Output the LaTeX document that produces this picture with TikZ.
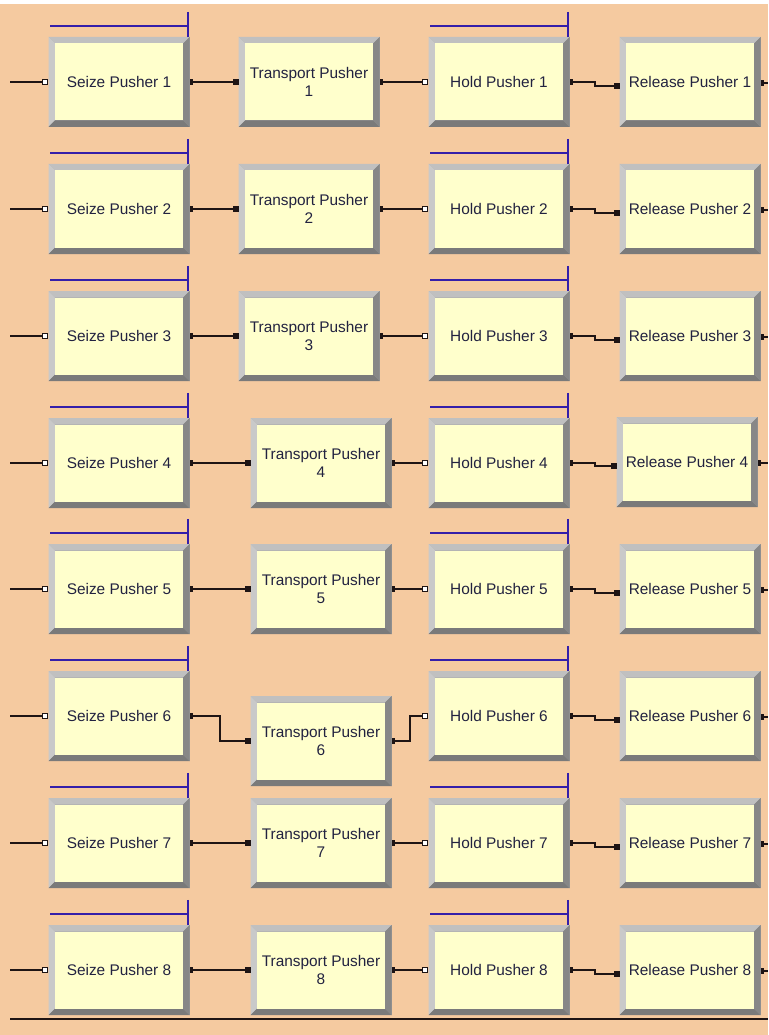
\documentclass[tikz,border=0pt]{standalone}
\usepackage{fontspec}
\setmainfont{Liberation Sans}
\definecolor{bg}{RGB}{245,202,160}
\definecolor{boxfill}{RGB}{255,255,204}
\definecolor{bevL}{RGB}{192,192,192}
\definecolor{bevD}{RGB}{122,122,122}
\definecolor{bevM}{RGB}{160,160,160}
\definecolor{brk}{RGB}{52,30,170}
\definecolor{wirec}{RGB}{30,20,20}
\definecolor{txt}{RGB}{34,34,64}
\tikzset{
  module/.style={rectangle, minimum width=141pt, minimum height=90pt, inner sep=0pt,
    fill=bevM, text=txt, align=center, font=\fontsize{15.4}{18.8}\selectfont,
    path picture={
      \path (path picture bounding box.north west) coordinate (pnw)
            (path picture bounding box.north east) coordinate (pne)
            (path picture bounding box.south west) coordinate (psw)
            (path picture bounding box.south east) coordinate (pse);
      \fill[bevL] (pnw) -- (pne) -- ([xshift=-6.5pt,yshift=-6.5pt]pne) -- ([xshift=6.5pt,yshift=-6.5pt]pnw) -- cycle;
      \fill[bevL!85!white] (pnw) -- (psw) -- ([xshift=6.5pt,yshift=6.5pt]psw) -- ([xshift=6.5pt,yshift=-6.5pt]pnw) -- cycle;
      \fill[bevD] (psw) -- (pse) -- ([xshift=-6.5pt,yshift=6.5pt]pse) -- ([xshift=6.5pt,yshift=6.5pt]psw) -- cycle;
      \fill[bevD!90!white] (pne) -- (pse) -- ([xshift=-6.5pt,yshift=6.5pt]pse) -- ([xshift=-6.5pt,yshift=-6.5pt]pne) -- cycle;
      \fill[boxfill] ([xshift=6.5pt,yshift=-6.5pt]pnw) rectangle ([xshift=-6.5pt,yshift=6.5pt]pse);
    }},
  wire/.style={draw=wirec, line width=1.7pt},
  bracketline/.style={draw=brk, line width=1.7pt},
  inport/.style={draw=wirec, fill=white, line width=0.9pt, minimum size=5pt, inner sep=0pt, rectangle},
  inportfull/.style={draw=wirec, fill=wirec, line width=0.6pt, minimum size=5pt, inner sep=0pt, rectangle},
  outport/.style={fill=wirec, minimum width=3pt, minimum height=6pt, inner sep=0pt, rectangle},
}
\begin{document}
\begin{tikzpicture}[x=1pt, y=-1pt]
\fill[bg] (0,0) rectangle (768,1035);
\fill[white] (0,0) rectangle (768,4);
\useasboundingbox (0,0) rectangle (768,1035);
\foreach \i/\c/\tx/\ty/\rx/\ry in {1/82/309/82/690/82, 2/209/309/209/690/209, 3/336/309/336/690/336, 4/463/321/463/687/462, 5/589/321/589/690/589, 6/716/321/741/690/716, 7/843/321/843/690/843, 8/970/321/970/690/970}{
  \node[module] (S\i) at (119,\c) {Seize Pusher \i};
  \node[module] (T\i) at (\tx,\ty) {Transport Pusher\\\i};
  \node[module] (H\i) at (499,\c) {Hold Pusher \i};
  \node[module] (R\i) at (\rx,\ry) {Release Pusher \i};
  % resource brackets
  \draw[bracketline] ([xshift=2pt,yshift=11pt]S\i.north west) -- ([xshift=-2pt,yshift=11pt]S\i.north east);
  \draw[bracketline] ([xshift=-2pt,yshift=25pt]S\i.north east) -- ([xshift=-2pt]S\i.north east);
  \draw[bracketline] ([xshift=2pt,yshift=11pt]H\i.north west) -- ([xshift=-2pt,yshift=11pt]H\i.north east);
  \draw[bracketline] ([xshift=-2pt,yshift=25pt]H\i.north east) -- ([xshift=-2pt]H\i.north east);
  % ports
  \coordinate (L\i) at (10,\c);
  \coordinate (E\i) at (768,\ry+1);
  \coordinate (Sin\i) at ([xshift=-3pt]S\i.west);
  \coordinate (Sout\i) at ([xshift=2pt]S\i.east);
  \coordinate (Tin\i) at ([xshift=-3pt]T\i.west);
  \coordinate (Tout\i) at ([xshift=2pt]T\i.east);
  \coordinate (Hin\i) at ([xshift=-3pt]H\i.west);
  \coordinate (Hout\i) at ([xshift=2pt]H\i.east);
  \coordinate (Rin\i) at ([xshift=-3pt,yshift=-4pt]R\i.west);
  \coordinate (Rout\i) at ([xshift=2pt,yshift=-1pt]R\i.east);
  % connectors
  \draw[wire] (L\i) -- (Sin\i);
  \ifnum\i=6
    \draw[wire] (Sout\i) -- ++(28,0) |- (Tin\i);
    \draw[wire] (Tout\i) -- ++(16,0) |- (Hin\i);
  \else
    \draw[wire] (Sout\i) -- (Tin\i);
    \draw[wire] (Tout\i) -- (Hin\i);
  \fi
  \draw[wire] (Hout\i) -- ++(23,0) |- (Rin\i);
  \draw[wire] (Rout\i) -- (E\i);
  \node[inport] (pSin\i) at (Sin\i) {};
  \node[outport] (pSout\i) at (Sout\i) {};
  \node[inportfull] (pTin\i) at (Tin\i) {};
  \node[outport] (pTout\i) at (Tout\i) {};
  \node[inport] (pHin\i) at (Hin\i) {};
  \node[outport] (pHout\i) at (Hout\i) {};
  \node[inportfull] (pRin\i) at (Rin\i) {};
  \node[outport] (pRout\i) at (Rout\i) {};
}
\coordinate (BL) at (10,1019);
\coordinate (BR) at (768,1019);
\draw[wire] (BL) -- (BR);
\end{tikzpicture}
\end{document}
